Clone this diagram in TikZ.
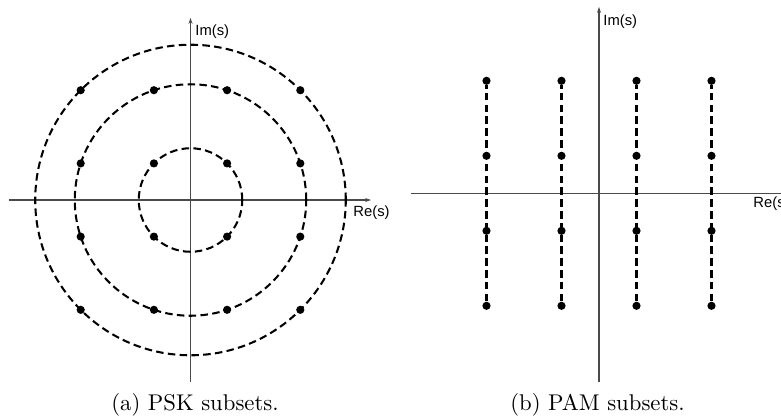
\documentclass[tikz,border=0pt]{standalone}
\usepackage{fontspec}
\newfontfamily\axisfont{Liberation Sans}
\usetikzlibrary{arrows.meta}
\definecolor{axisGray}{HTML}{4A4A4A}
\tikzset{
  % Axes of the signal plane: thin, grey, small tip.
  cons/axis/.style={
    -{Stealth[length=2.6pt,width=1.8pt]}, draw=axisGray, line width=0.5pt
  },
  % Subset outlines, dashed.
  cons/subset/.style={
    draw=black, line width=0.9pt, dash pattern=on 3.3pt off 1.9pt
  },
  % Constellation points.
  cons/dot/.style={
    circle, fill=black, inner sep=0pt, minimum size=3.6pt
  },
  cons/label/.style={
    font=\axisfont\fontsize{6.5}{7}\selectfont, inner sep=0pt, text=black
  },
  cons/caption/.style={
    font=\normalsize, inner sep=0pt
  },
}

\begin{document}
\begin{tikzpicture}[x=0.44pt,y=0.44pt]
  \useasboundingbox (0,0) rectangle (781,417);
  \clip (0,0) rectangle (781,417);

  % (a) PSK subsets
  \coordinate (psk) at (190.5,217);
  \coordinate (psk-w) at (9,217);
  \coordinate (psk-e) at (371,217);
  \coordinate (psk-s) at (190.5,35);
  \coordinate (psk-n) at (190.5,399);
  \draw[cons/axis] (psk-w) -- (psk-e);
  \draw[cons/axis] (psk-s) -- (psk-n);
  \foreach \r in {1.4142,3.1623,4.2426}{
    \draw[cons/subset] (psk) circle[radius=\r*36.6];}
  \begin{scope}[shift={(psk)}]
    \foreach \i in {-3,-1,1,3}{
      \foreach \j in {-3,-1,1,3}{
        \node[cons/dot] (psk\i\j) at (\i*36.6,\j*36.6) {};}}
  \end{scope}
  \node[cons/label, anchor=west] (psk-im) at (195,385) {Im(s)};
  \node[cons/label, anchor=west] (psk-re) at (353,204) {Re(s)};
  \node[cons/caption] (psk-cap) at (195,12) {(a) PSK subsets.};

  % (b) PAM subsets
  \coordinate (pam) at (599,223.7);
  \coordinate (pam-w) at (411,223.7);
  \coordinate (pam-e) at (810,223.7);
  \coordinate (pam-s) at (599,35);
  \coordinate (pam-n) at (599,410);
  \draw[cons/axis] (pam-w) -- (pam-e);
  \draw[cons/axis] (pam-s) -- (pam-n);
  \begin{scope}[shift={(pam)}]
    \foreach \i [count=\ci] in {-3,-1,1,3}{
      \foreach \j [count=\cj] in {-3,-1,1,3}{
        \node[cons/dot] (pam\ci\cj) at (\i*37.5,\j*37.5) {};}
      \draw[cons/subset] (pam\ci1) -- (pam\ci4);}
  \end{scope}
  \node[cons/label, anchor=west] (pam-im) at (603,395) {Im(s)};
  \node[cons/label, anchor=west] (pam-re) at (753,213) {Re(s)};
  \node[cons/caption] (pam-cap) at (597.5,12) {(b) PAM subsets.};
\end{tikzpicture}
\end{document}
